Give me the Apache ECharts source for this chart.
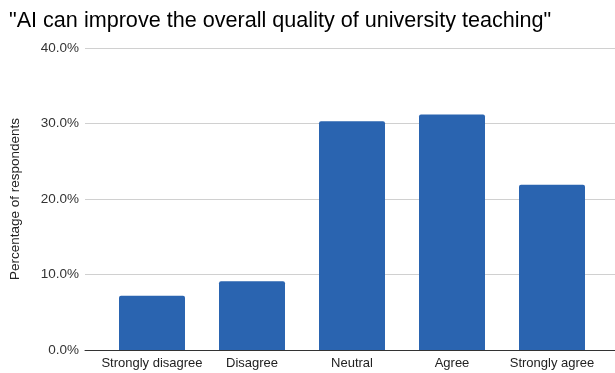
<!DOCTYPE html>
<html><head><meta charset="utf-8">
<script src="https://cdn.jsdelivr.net/npm/echarts@6/dist/echarts.min.js"></script>
<style>html,body{margin:0;padding:0;background:#fff}#c{width:615px;height:373px}</style>
</head><body><div id="c"></div>
<script>
const categories = ["Strongly disagree", "Disagree", "Neutral", "Agree", "Strongly agree"];
const values = [7.2, 9.1, 30.3, 31.2, 21.9];
const yTicks = [0, 10, 20, 30, 40];
const titleText = '"AI can improve the overall quality of university teaching"';
const yName = "Percentage of respondents";

const chart = echarts.init(document.getElementById('c'), null, {renderer: 'canvas'});
const font = "Liberation Sans, Arial, sans-serif";
chart.setOption({
  animation: false,
  title: {text: titleText, left: 4, top: 5, textStyle: {fontFamily: font, fontSize: 21.6, fontWeight: 'normal', color: '#000'}},
  grid: [
    {left: 85, right: 0, top: 48, bottom: 23, containLabel: false, outerBoundsMode: 'none'},
    {left: 102, right: 13, top: 48, bottom: 23, containLabel: false, outerBoundsMode: 'none'}
  ],
  xAxis: [
    {gridIndex: 0, type: 'category', data: categories, axisLabel: {show: false}, axisTick: {show: false},
     axisLine: {show: true, lineStyle: {color: '#333', width: 1}}},
    {gridIndex: 1, type: 'category', data: categories, axisTick: {show: false}, axisLine: {show: false},
     axisLabel: {interval: 0, fontFamily: font, fontSize: 13, color: '#222', margin: 7}}
  ],
  yAxis: [
    {gridIndex: 0, type: 'value', min: yTicks[0], max: yTicks[yTicks.length-1], interval: 10,
     name: yName, nameLocation: 'middle', nameGap: 63, nameRotate: 90,
     nameTextStyle: {fontFamily: font, fontSize: 13.5, color: '#222'},
     axisLabel: {fontFamily: font, fontSize: 13.5, color: '#333', margin: 6, formatter: v => v.toFixed(1) + '%'},
     axisLine: {show: false}, axisTick: {show: false},
     splitLine: {lineStyle: {color: '#d0d0d0', width: 1}}},
    {gridIndex: 1, type: 'value', min: yTicks[0], max: yTicks[yTicks.length-1], interval: 10,
     show: false, splitLine: {show: false}}
  ],
  series: [{
    type: 'bar', xAxisIndex: 1, yAxisIndex: 1, data: values, barWidth: 66,
    itemStyle: {color: '#2a64b0', borderRadius: [2, 2, 0, 0]}
  }]
});
</script></body></html>
